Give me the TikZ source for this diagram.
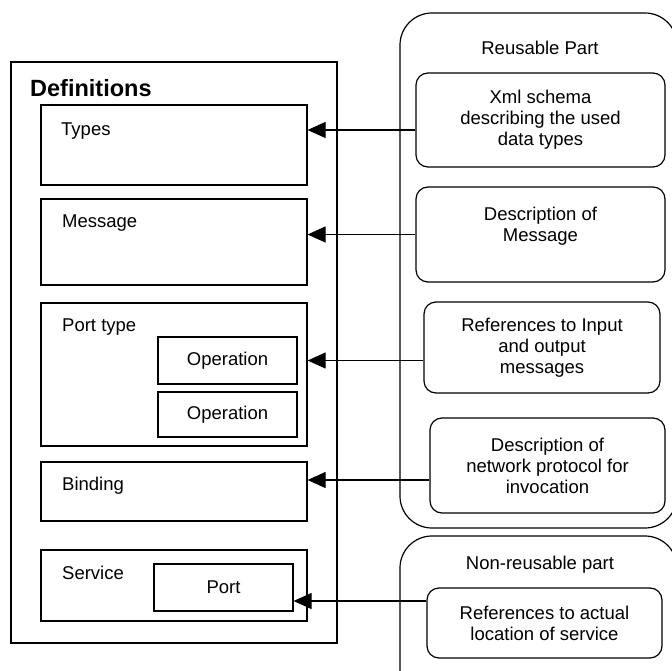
\documentclass[tikz,border=0pt]{standalone}
\usepackage{fontspec}
\setmainfont{Liberation Sans}
\usetikzlibrary{positioning,arrows.meta}

\begin{document}
\begin{tikzpicture}[x=1pt, y=-1pt, font=\fontsize{18.5}{21}\selectfont,
  box/.style={rectangle, draw, line width=1.2pt, inner sep=0pt},
  rbox/.style={rectangle, draw, line width=1.2pt, rounded corners=12pt, align=center, inner sep=0pt},
  group/.style={draw, line width=1.2pt, rounded corners=32pt},
  lbl/.style={anchor=west, inner sep=0pt},
  line/.style={draw, line width=1.2pt, -{Triangle[length=18pt, width=16pt]}}]
        \useasboundingbox (0,0) rectangle (672,671);
        \clip (0,0) rectangle (672,671);

        % Definitions
        \node [box, line width=1.5pt, minimum width=326, minimum height=581] (defs) at (174,352.5) {};
        \node [lbl, font=\fontsize{23.5}{26}\selectfont\bfseries] (defslbl) at (30,88) {Definitions};
        \node [box, minimum width=266, minimum height=80] (types) at (174,145) {};
        \node [box, minimum width=266, minimum height=86] (message) at (174,242) {};
        \node [box, minimum width=266, minimum height=143] (porttype) at (174,374.5) {};
        \node [box, minimum width=139, minimum height=47] (op1) at (227.5,360.5) {Operation};
        \node [box, minimum width=139, minimum height=45] (op2) at (227.5,414.5) {Operation};
        \node [box, minimum width=266, minimum height=59] (binding) at (174,491.5) {};
        \node [box, minimum width=266, minimum height=71] (service) at (174,585.5) {};
        \node [box, minimum width=139, minimum height=47] (port) at (223.5,587.5) {Port};
        \node [lbl] (typeslbl) at (61,131) {Types};
        \node [lbl] (messagelbl) at (62,223) {Message};
        \node [lbl] (porttypelbl) at (62,327) {Port type};
        \node [lbl] (bindinglbl) at (62,486) {Binding};
        \node [lbl] (servicelbl) at (62,573) {Service};

        % Parts
        \draw [group] (400,13) rectangle (677,528);
        \draw [group] (400,536) rectangle (677,720);
        \node (reuselbl) at (540,48) {Reusable Part};
        \node (nonreuselbl) at (540,565) {Non-reusable part};
        \node [rbox, minimum width=249, minimum height=94] (xmlbox) at (540.5,120) {Xml schema\\describing the used\\data types};
        \node [rbox, minimum width=249, minimum height=95] (descbox) at (540.5,234.5) {Description of\\Message\\ \mbox{}};
        \node [rbox, minimum width=236, minimum height=91] (refbox) at (542,347.5) {References to Input\\and output\\messages};
        \node [rbox, minimum width=235, minimum height=95] (netbox) at (547.5,465.5) {Description of\\network protocol for\\invocation};
        \node [rbox, minimum width=235, minimum height=70] (actbox) at (544.5,623) {References to actual\\location of service};

        % Arrows
        \path [line] ([yshift=-10pt]xmlbox.west) -- ([yshift=-10pt]xmlbox.west -| types.east);
        \path [line] (descbox.west) -- (descbox.west -| message.east);
        \path [line] (refbox.west |- op1) -- (porttype.east |- op1);
        \path [line] ([yshift=-14.5pt]netbox.west) -- ([yshift=-14.5pt]netbox.west -| binding.east);
        \path [line] ([yshift=22pt]actbox.west) -- ([yshift=22pt]actbox.west -| port.east);
    \end{tikzpicture}
\end{document}
